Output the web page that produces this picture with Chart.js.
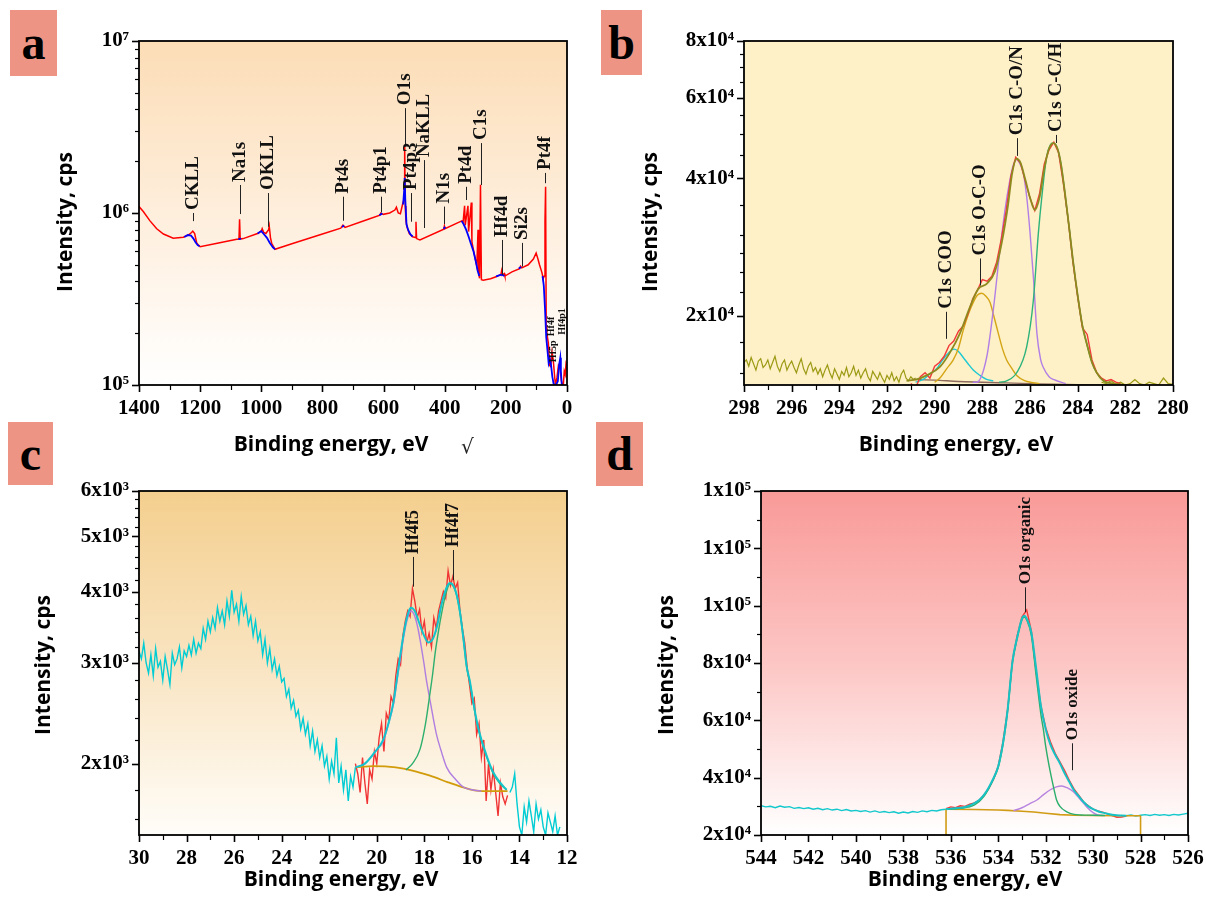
<!DOCTYPE html>
<html>
<head>
<meta charset="utf-8">
<title>XPS spectra</title>
<script src="https://cdn.jsdelivr.net/npm/chart.js@4.4.1/dist/chart.umd.min.js"></script>
<style>
  html, body { margin:0; padding:0; background:#ffffff; }
  body { position:relative; width:1206px; height:901px; overflow:hidden; }
  canvas { position:absolute; }
  .tag { position:absolute; background:#EE9484; color:#000; font-family:"Liberation Serif", serif; font-weight:bold; font-size:48px; line-height:1; display:flex; align-items:center; justify-content:center; }
  .mark { position:absolute; font-family:"DejaVu Serif", serif; font-style:italic; font-size:20px; color:#222; }
</style>
</head>
<body>
<canvas id="chartA" width="600" height="470" style="left:0;top:0"></canvas>
<canvas id="chartB" width="606" height="470" style="left:600px;top:0"></canvas>
<canvas id="chartC" width="600" height="451" style="left:0;top:450px"></canvas>
<canvas id="chartD" width="606" height="451" style="left:600px;top:450px"></canvas>
<div class="tag" style="left:10px;top:10px;width:47px;height:66px;">a</div>
<div class="tag" style="left:601px;top:10px;width:41px;height:65px;">b</div>
<div class="tag" style="left:8px;top:422px;width:45px;height:63px;">c</div>
<div class="tag" style="left:596px;top:422px;width:47px;height:64px;">d</div>
<div class="mark" style="left:461px;top:434px;">√</div>
<script>
// ================= DATA =================
// ---- Panel a: survey spectrum ----
const aEnergy = [1400,1386,1364,1342,1320,1288,1255,1239,1228,1224,1218,1211,1200,1140,1080,1073,1071,1069,1059,1010,999,997,992,985,976,974,970,966,955,900,800,740,733,726,650,612,609,601,580,563,558,552,545,537,533,531,529,527,524,516,505,496,494,492,486,481,403,401,399,344,340,335,333,324,322,313,311,306,298,295,291,289,286,283,280,274,250,230,216,214,212,205,203,180,155,152,148,127,110,101,95,90,82,78,74,72,70,68,66,61,57,53,49,45,41,38,33,28,23,18,15,12,9,6,3,0];
const aRed = [1090000,1020000,900000,810000,755000,713000,723000,745000,770000,785000,760000,667000,637000,670000,703000,705000,918000,705000,710000,762000,790000,810000,770000,760000,800000,840000,720000,667000,615000,662000,755000,817000,850000,825000,920000,970000,1000000,982000,1000000,1040000,1080000,1000000,990000,1140000,1200000,2480000,1100000,910000,840000,760000,728000,720000,890000,710000,703000,697000,805000,840000,810000,900000,880000,1100000,850000,1100000,780000,1150000,680000,610000,520000,490000,800000,450000,417000,1460000,410000,407000,415000,427000,440000,460000,435000,445000,430000,455000,475000,490000,480000,500000,540000,585000,540000,500000,450000,417000,430000,900000,1420000,220000,200000,175000,130000,128000,155000,140000,115000,100000,110000,130000,125000,105000,100000,100000,120000,115000,134000,130000];
const aBlueEnergy = [1252,1240,1230,1222,1215,1208,1202,1202, 1075,1066,1066, 1012,1000,992,982,972,962,955,955, 736,729,729, 614,604,604, 536,532,531,529,525,520,512,505,505, 404,398,398, 345,338,330,322,314,306,298,292,287,287, 232,220,212,205,205, 158,150,150, 80,76,72,68,64,60,56,52,48,44,40,36,30,26,22,20,17,14];
const aBlue = [725000,745000,740000,710000,675000,650000,640000,null, 705000,710000,null, 760000,785000,755000,720000,670000,630000,615000,null, 830000,845000,null, 970000,995000,null, 1120000,1400000,1600000,1200000,860000,800000,750000,730000,null, 810000,830000,null, 900000,860000,800000,730000,660000,600000,520000,460000,430000,null, 428000,435000,438000,430000,null, 475000,485000,null, 430000,380000,280000,190000,160000,134000,142000,130000,112000,102000,100000,100000,105000,130000,144000,120000,100000,100000];
const aPeakNames = ['CKLL','Na1s','OKLL','Pt4s','Pt4p1','O1s','Pt4p3','NaKLL','N1s','Pt4d','C1s','Hf4d','Si2s','Pt4f'];
const aPeakEnergy = [1222,1070,977,732,609,530,510,468,401,330,282,214,148,72];
const aPeakLineLow = [897000,986000,832000,902000,1010000,2480000,890000,818000,863000,1190000,1455000,436000,488000,1490000];
const aPeakLineHigh = [1000000,1455000,1306000,1244000,1244000,4070000,1306000,2030000,1090000,1420000,2550000,697000,670000,1710000];
const aMinorNames = ['Hf4f','Hf5p','Hf4p1'];
const aMinorEnergy = [53,47,17];
const aMinorLevel = [219000,157000,234000];
const aXTickValues = [1400,1300,1200,1100,1000,900,800,700,600,500,400,300,200,100,0];
const aXTickLabels = ['1400','','1200','','1000','','800','','600','','400','','200','','0'];
const aYTickValues = [100000,200000,300000,400000,500000,600000,700000,800000,900000,1000000,2000000,3000000,4000000,5000000,6000000,7000000,8000000,9000000,10000000];
const aYTickLabels = ['10⁵','','','','','','','','','10⁶','','','','','','','','','10⁷'];

// ---- Panel b: C1s ----
const bNoiseLeftStart = 298.0, bNoiseStep = -0.1;
const bNoiseLeft = [15800,16000,15500,16200,15700,15200,15900,16100,15400,15600,
  16000,15300,15800,16300,15500,15100,15700,16000,15200,15600,
  15900,15400,15000,15600,16100,15300,14900,15500,15800,15100,
  15400,14900,15300,14700,15200,15600,15000,14600,15300,14900,
  14500,15100,14800,15400,14700,15000,15500,14800,15200,14600,
  15000,15300,14700,14400,15100,14800,14500,15000,14600,14300,
  14800,14500,15000,14400,14700,14300,14900,15200,14600,14400,
  14700,14500,14600];
const bNoiseRightStart = 283.0, bNoiseRightStep = -0.2;
const bNoiseRight = [14300,14200,14400,14150,14300,14100,14200,14500,14200,14100,14300,14200,14100,14600,14200,14150];
const bRawStart = 291.0, bRawStep = -0.2;
const bRaw = [14200,13900,14700,15000,14600,15500,15800,16300,17200,17600,18500,19000,20200,21800,22800,24000,23800,24400,26200,29500,34000,40500,44500,43200,39500,36200,34000,37000,43000,46200,48000,45500,39000,32500,26200,22000,18800,18200,16000,15000,14600,14400,14500,14300,14200];
const bEnvelopeE = [291.18,290.76,290.34,289.78,289.36,288.94,288.52,288.17,287.82,287.47,287.18,286.92,286.75,286.56,286.4,286.2,286.0,285.8,285.6,285.4,285.2,285.02,284.85,284.7,284.53,284.35,284.2,283.97,283.8,283.61,283.4,283.2,282.92,282.5,282.0];
const bEnvelope = [14400,14500,14800,15450,16600,18300,20900,22900,23500,25000,29000,35000,41000,44200,43300,39800,36300,34100,36300,42000,46500,47800,46500,43000,37000,31000,26500,21600,19000,17300,15800,15000,14400,14200,14100];
const bCONE = [288.4,288.24,287.82,287.54,287.26,287.05,286.85,286.7,286.56,286.42,286.28,286.14,286.0,285.85,285.71,285.55,285.44,285.2,285.02,284.5];
const bCON = [14300,14300,16200,20600,27900,34100,39500,42800,44000,43000,41000,36500,30500,24000,18300,16000,15400,14700,14500,14200];
const bCCHE = [287.3,286.98,286.56,286.14,285.86,285.65,285.5,285.3,285.15,285.02,284.85,284.7,284.53,284.35,284.2,283.97,283.8,283.61,283.4,283.2,282.92,282.6];
const bCCH = [14300,14400,15000,17100,21600,30300,36600,44700,47300,47800,46500,43000,37000,31000,26500,21600,19000,17300,15800,15000,14400,14200];
const bOCOE = [290.0,289.78,289.5,289.22,289.0,288.8,288.58,288.38,288.2,288.03,287.86,287.68,287.5,287.33,287.15,286.98,286.75,286.56,286.2,285.99,285.6];
const bOCO = [14300,14600,15300,16000,17000,18600,20200,21400,22200,22400,22100,21400,19800,18300,16900,16000,15300,14800,14400,14300,14200];
const bCOOE = [290.8,290.48,290.2,289.92,289.7,289.5,289.3,289.18,289.0,288.8,288.6,288.38,288.1,287.82,287.54];
const bCOO = [14300,14500,14900,15300,15900,16400,16800,16900,16700,16200,15700,15200,14800,14500,14400];
const bBaseE = [290.9,290.0,289.0,288.0,287.0,286.0,285.0,284.0,283.0,282.0];
const bBase = [14500,14450,14350,14300,14250,14200,14150,14120,14100,14080];
const bPeakNames = ['C1s COO','C1s O-C-O','C1s C-O/N','C1s C-C/H'];
const bPeakEnergy = [289.52,288.1,286.56,284.9];
const bPeakLineLow = [17800,23300,44800,47800];
const bPeakLineHigh = [20400,26700,49000,49800];
const bXTickValues = [298,297,296,295,294,293,292,291,290,289,288,287,286,285,284,283,282,281,280];
const bXTickLabels = ['298','','296','','294','','292','','290','','288','','286','','284','','282','','280'];
const bYTickValues = [15000,17500,20000,22500,25000,27500,30000,35000,40000,45000,50000,55000,60000,65000,70000,75000,80000];
const bYTickLabels = ['','','2x10⁴','','','','','','4x10⁴','','','','6x10⁴','','','','8x10⁴'];

// ---- Panel c: Hf4f ----
const cRawLeftStart = 30.0, cRawStep = -0.1;
const cRawLeft = [3150,3050,3250,3000,2880,3100,2850,3180,2950,3020,
  2800,3080,2920,2750,3120,2980,3050,3200,2940,3150,
  3080,3220,3100,3300,3120,3250,3180,3450,3300,3550,
  3400,3600,3450,3750,3550,3700,3500,3850,3620,4020,
  3680,3800,3550,3920,3650,3780,3500,3620,3350,3550,
  3280,3400,3100,3300,3000,3180,2920,3050,2850,2960,
  2780,2820,2620,2700,2500,2580,2420,2480,2300,2400,
  2250,2350,2150,2280,2100,2200,2050,2150,1980,2060,
  1880,2020,1920,2220,1850,1980,1800,1950,1720,1900,
  1820,1970];
const cRawRightStart = 14.4;
const cRawRight = [1780,1820,1920,1700,1550,1500,1680,1580,1720,1620,1520,1700,1600,1660,1550,1500,1640,1580,1520,1620,1500,1550];
const cRedStart = 20.9;
const cRed = [2000,1920,1780,2050,1850,1700,1950,1880,2100,2000,
  2220,2350,2100,2450,2380,2620,2550,2850,3050,2980,
  3350,3550,3700,3620,4050,3850,3600,3720,3400,3550,
  3250,3380,3200,3600,3450,3700,3850,4000,3900,4350,
  4100,4250,4050,4150,3700,3450,3250,2950,2750,2550,
  2600,2250,2350,2050,2200,1720,2000,1800,1950,1780,
  1620,1850,1750,1700,1760];
const cEnvelopeE = [20.9,20.5,20.1,19.73,19.5,19.3,19.15,19.02,18.81,18.65,18.56,18.4,18.25,18.05,17.83,17.65,17.48,17.3,17.2,17.05,16.92,16.78,16.64,16.5,16.36,16.22,16.08,15.94,15.8,15.66,15.52,15.3,15.1,14.8,14.54];
const cEnvelope = [1970,2000,2090,2200,2360,2560,2820,3080,3480,3700,3750,3700,3560,3380,3260,3300,3460,3760,3910,4080,4140,4100,3950,3680,3320,2960,2780,2560,2380,2250,2150,2020,1930,1850,1800];
const cF5E = [20.9,20.5,20.1,19.73,19.5,19.3,19.15,19.02,18.81,18.65,18.56,18.4,18.25,18.04,17.9,17.76,17.5,17.3,17.06,16.7,16.36,16.0,15.6];
const cF5 = [1970,2000,2090,2190,2350,2540,2790,3040,3440,3650,3700,3620,3420,3040,2780,2580,2260,2110,1970,1880,1820,1800,1790];
const cF7E = [18.77,18.5,18.18,17.95,17.76,17.65,17.55,17.4,17.27,17.1,16.92,16.78,16.64,16.5,16.36,16.22,16.08,15.94,15.8,15.66,15.52,15.3,15.1,14.8,14.54];
const cF7 = [1950,2000,2120,2350,2660,2870,3110,3420,3670,3960,4130,4090,3940,3670,3310,2950,2770,2550,2370,2240,2140,2010,1920,1840,1800];
const cBaseE = [20.9,20.15,19.2,18.5,17.76,17.0,16.5,15.9,15.4,14.5];
const cBase = [1970,1980,1970,1945,1905,1855,1825,1795,1790,1790];
const cPeakNames = ['Hf4f5','Hf4f7'];
const cPeakEnergy = [18.49,16.81];
const cPeakLineLow = [4080,4190];
const cPeakLineHigh = [4600,4730];
const cXTickValues = [30,29,28,27,26,25,24,23,22,21,20,19,18,17,16,15,14,13,12];
const cXTickLabels = ['30','','28','','26','','24','','22','','20','','18','','16','','14','','12'];
const cYTickValues = [1600,1800,2000,2200,2400,2600,2800,3000,3200,3400,3600,3800,4000,4200,4400,4600,4800,5000,5200,5400,5600,5800,6000];
const cYTickLabels = ['','','2x10³','','','','','3x10³','','','','','4x10³','','','','','5x10³','','','','','6x10³'];

// ---- Panel d: O1s ----
const dRawLeftStart = 544.0, dStep = -0.2;
const dRawLeft = [30200,29800,30000,29500,30100,29700,29900,29300,29600,29200,
  29500,29000,29300,28800,29200,28700,29000,28500,28900,28400,
  28600,28200,28500,28000,28400,27900,28200,27800,28100,27600,
  28000,27700,28200,27900,28400,28100,28600,28400,28800,29000];
const dRawRightStart = 528.6;
const dRawRight = [26700,27000,26600,26900,27100,26800,27200,26900,27100,26800,27200,27000,27300,27600];
const dRedStart = 536.2;
const dRed = [29200,29800,29500,30200,30000,30800,31200,32200,34000,36200,39500,44000,52500,64000,81000,89500,96000,98500,91000,77000,65000,57500,52500,48500,45500,42500,39000,36000,33800,31500,30200,29000,28400,28000,27400,26800,26200,26300,26600];
const dEnvelopeE = [536.2,536.0,535.8,535.6,535.4,535.2,535.0,534.8,534.6,534.4,534.2,534.0,533.8,533.6,533.4,533.2,533.0,532.9,532.8,532.6,532.4,532.2,532.0,531.8,531.6,531.4,531.2,531.0,530.8,530.6,530.4,530.2,530.0,529.8,529.6,529.4,529.2,529.0,528.8,528.6];
const dEnvelope = [29000,29200,29300,29500,29800,30300,31100,32200,34000,36600,39800,44000,52000,64000,80500,89000,95500,96500,95500,90500,78000,65000,57000,51500,48000,45000,41500,38500,35500,33500,31500,30000,29000,28300,27800,27400,27100,26900,26800,26700];
const dOrgE = [536.2,535.6,535.0,534.6,534.2,534.0,533.8,533.6,533.4,533.2,533.0,532.9,532.8,532.6,532.4,532.2,532.1,532.0,531.82,531.65,531.54,531.4,531.11,530.8,530.5,530.0,529.5];
const dOrg = [29000,29300,30500,33500,39500,43500,51500,63500,80000,88500,95000,96000,95000,89500,75500,62000,57000,51000,42600,36000,32200,30000,28100,27200,27000,26900,26800];
const dOxE = [533.36,533.0,532.7,532.37,532.1,531.82,531.55,531.32,531.1,530.83,530.55,530.27,530.0,529.8,529.6];
const dOx = [28500,29500,30800,32200,34000,35700,36800,37100,36500,35100,32500,29800,27800,27000,26800];
const dBaseE = [536.2,535.0,534.0,533.6,533.0,532.5,532.0,531.4,530.8,530.0,529.0,528.0];
const dBase = [29000,28900,28700,28600,28300,28000,27600,27100,26900,26800,26700,26700];
const dPeakNames = ['O1s organic','O1s oxide'];
const dPeakEnergy = [532.87,530.90];
const dPeakLineLow = [97700,42600];
const dPeakLineHigh = [106400,52000];
const dXTickValues = [544,543,542,541,540,539,538,537,536,535,534,533,532,531,530,529,528,527,526];
const dXTickLabels = ['544','','542','','540','','538','','536','','534','','532','','530','','528','','526'];
const dYTickValues = [20000,30000,40000,50000,60000,70000,80000,90000,100000,110000,120000,130000,140000];
const dYTickLabels = ['2x10⁴','','4x10⁴','','6x10⁴','','8x10⁴','','1x10⁵','','1x10⁵','','1x10⁵'];

const X_TITLE = 'Binding energy, eV';
const Y_TITLE = 'Intensity, cps';

// ================= HELPERS =================
const grid = (start, step, n) => Array.from({length: n}, (_, i) => +(start + i * step).toFixed(2));
const pts = (xs, ys) => xs.map((x, i) => ({x: x, y: ys[i]}));
function series(data, color, width, smooth, order) {
  return { data: data, borderColor: color, backgroundColor: color, borderWidth: width, pointRadius: 0, pointHoverRadius: 0,
    fill: false, tension: 0, cubicInterpolationMode: smooth ? 'monotone' : 'default', spanGaps: false, order: order };
}
function lookup(values, labels) {
  return v => { const i = values.findIndex(t => Math.abs(t - v) <= Math.abs(t) * 1e-9 + 1e-9); return i >= 0 ? labels[i] : ''; };
}
function notes(names, energies, lows, highs, font) {
  return names.map((n, i) => ({text: n, e: energies[i], lo: lows ? lows[i] : null, hi: highs[i], font: font}));
}

const TICK_FONT = {family: '"Liberation Serif", "Times New Roman", serif', weight: 'bold', size: 21};
const TITLE_FONT_CSS = 'bold 21px "Open Sans", "Noto Sans", sans-serif';

// ================= PLUGINS =================
const bgPlugin = {
  id: 'panelBg',
  beforeDraw(chart, args, opts) {
    const {ctx, chartArea: a} = chart;
    const g = ctx.createLinearGradient(0, a.top, 0, a.bottom);
    opts.stops.forEach(s => g.addColorStop(s[0], s[1]));
    ctx.save(); ctx.fillStyle = g; ctx.fillRect(a.left, a.top, a.right - a.left, a.bottom - a.top); ctx.restore();
  }
};
const framePlugin = {
  id: 'frameTicks',
  afterDraw(chart) {
    const {ctx, chartArea: a} = chart;
    ctx.save();
    ctx.strokeStyle = '#000';
    const xs = chart.scales.x, ys = chart.scales.y;
    xs.ticks.forEach(t => {
      const major = t.label !== '' && t.label != null;
      const px = Math.round(xs.getPixelForValue(t.value)) + 0.5;
      ctx.lineWidth = major ? 1.6 : 1.2;
      ctx.beginPath(); ctx.moveTo(px, a.bottom); ctx.lineTo(px, a.bottom + (major ? 7 : 5)); ctx.stroke();
    });
    ys.ticks.forEach(t => {
      const major = t.label !== '' && t.label != null;
      const py = Math.round(ys.getPixelForValue(t.value)) + 0.5;
      ctx.lineWidth = major ? 1.6 : 1.2;
      ctx.beginPath(); ctx.moveTo(a.left - (major ? 7 : 4), py); ctx.lineTo(a.left, py); ctx.stroke();
    });
    ctx.lineWidth = 1.8;
    ctx.strokeRect(a.left, a.top, a.right - a.left, a.bottom - a.top);
    ctx.restore();
  }
};
const titlePlugin = {
  id: 'axisTitles',
  afterDraw(chart, args, opts) {
    const {ctx} = chart;
    ctx.save();
    ctx.font = TITLE_FONT_CSS; ctx.fillStyle = '#000';
    ctx.textAlign = 'center'; ctx.textBaseline = 'middle';
    ctx.fillText(opts.xText, opts.xPos[0], opts.xPos[1]);
    ctx.translate(opts.yPos[0], opts.yPos[1]);
    ctx.rotate(-Math.PI / 2);
    ctx.fillText(opts.yText, 0, 0);
    ctx.restore();
  }
};
const labelPlugin = {
  id: 'peakLabels',
  afterDatasetsDraw(chart, args, opts) {
    const {ctx} = chart;
    const xs = chart.scales.x, ys = chart.scales.y;
    ctx.save();
    ctx.fillStyle = '#111'; ctx.strokeStyle = '#222'; ctx.lineWidth = 1;
    opts.items.forEach(it => {
      const x = Math.round(xs.getPixelForValue(it.e)) + 0.5;
      const y1 = ys.getPixelForValue(it.hi);
      if (it.lo != null) {
        const y0 = ys.getPixelForValue(it.lo);
        ctx.beginPath(); ctx.moveTo(x, y0); ctx.lineTo(x, y1); ctx.stroke();
      }
      ctx.save();
      ctx.font = it.font;
      ctx.translate(x, it.lo != null ? y1 - 3 : y1);
      ctx.rotate(-Math.PI / 2);
      ctx.textAlign = it.lo != null ? 'left' : 'center';
      ctx.textBaseline = 'middle';
      ctx.fillText(it.text, 0, 0);
      ctx.restore();
    });
    ctx.restore();
  }
};

// ================= CHART FACTORY =================
function makeChart(id, geo, datasets, xs, ys, stops, items) {
  return new Chart(document.getElementById(id), {
    type: 'line',
    data: { datasets: datasets },
    options: {
      responsive: false, animation: false, devicePixelRatio: 1, events: [],
      layout: { padding: { left: geo.padL, top: geo.top, right: geo.w - geo.right, bottom: geo.h - geo.xBottom } },
      plugins: { legend: {display: false}, tooltip: {enabled: false}, panelBg: {stops: stops}, peakLabels: {items: items},
        axisTitles: {xText: X_TITLE, yText: Y_TITLE, xPos: geo.xTitle, yPos: geo.yTitle} },
      scales: {
        x: {
          type: 'linear', reverse: true, min: xs.min, max: xs.max,
          afterBuildTicks: s => { s.ticks = xs.values.map(v => ({value: v})); },
          afterFit: s => { s.height = geo.xBottom - geo.bottom; s.paddingLeft = 0; s.paddingRight = 0; },
          ticks: { autoSkip: false, maxRotation: 0, minRotation: 0, padding: 4, color: '#000', font: TICK_FONT, callback: lookup(xs.values, xs.labels) },
          grid: { display: true, drawOnChartArea: false, drawTicks: true, tickLength: 7, color: 'rgba(0,0,0,0)', tickColor: 'rgba(0,0,0,0)' },
          border: { display: false },
          title: { display: false }
        },
        y: {
          type: ys.type, min: ys.min, max: ys.max,
          afterBuildTicks: s => { s.ticks = ys.values.map(v => ({value: v})); },
          afterFit: s => { s.width = geo.left - geo.padL; s.paddingTop = 0; s.paddingBottom = 0; },
          ticks: { autoSkip: false, padding: 3, color: '#000', font: TICK_FONT, callback: lookup(ys.values, ys.labels) },
          grid: { display: true, drawOnChartArea: false, drawTicks: true, tickLength: 7, color: 'rgba(0,0,0,0)', tickColor: 'rgba(0,0,0,0)' },
          border: { display: false },
          title: { display: false }
        }
      }
    },
    plugins: [bgPlugin, framePlugin, labelPlugin, titlePlugin]
  });
}

// ================= PANEL A =================
makeChart('chartA',
  {w: 600, h: 470, padL: 40, left: 139, right: 567, top: 41, bottom: 385, xBottom: 458, xTitle: [331, 445], yTitle: [66, 222]},
  [
    series(pts(aBlueEnergy, aBlue), '#0000FF', 1.8, false, 1),
    series(pts(aEnergy, aRed), '#FF0000', 1.5, false, 2)
  ],
  {min: 0, max: 1400, values: aXTickValues, labels: aXTickLabels},
  {type: 'logarithmic', min: 1e5, max: 1e7, values: aYTickValues, labels: aYTickLabels},
  [[0, '#FCDDB6'], [0.5, '#FEEEDC'], [1, '#FFFFFF']],
  notes(aPeakNames, aPeakEnergy, aPeakLineLow, aPeakLineHigh, 'bold 19px "Liberation Serif", serif')
    .concat(notes(aMinorNames, aMinorEnergy, null, aMinorLevel, 'bold 10px "Liberation Serif", serif'))
);

// ================= PANEL B =================
makeChart('chartB',
  {w: 606, h: 470, padL: 30, left: 144, right: 573, top: 41, bottom: 385, xBottom: 458, xTitle: [356, 445], yTitle: [51, 222]},
  [
    series(pts(bEnvelopeE, bEnvelope), '#8E8A1E', 1.8, true, 1),
    series(pts(grid(bRawStart, bRawStep, bRaw.length), bRaw), '#F23A3A', 1.4, false, 2),
    series(pts(bCCHE, bCCH), '#2DB37A', 1.4, true, 3),
    series(pts(bCONE, bCON), '#B27FE6', 1.4, true, 4),
    series(pts(bOCOE, bOCO), '#D4A514', 1.4, true, 5),
    series(pts(bCOOE, bCOO), '#1FC9D2', 1.4, true, 6),
    series(pts(bBaseE, bBase), '#8C6A5E', 1.4, true, 7),
    series(pts(grid(bNoiseRightStart, bNoiseRightStep, bNoiseRight.length), bNoiseRight), '#9C9A14', 1.2, false, 8),
    series(pts(grid(bNoiseLeftStart, bNoiseStep, bNoiseLeft.length), bNoiseLeft), '#9C9A14', 1.2, false, 9)
  ],
  {min: 280, max: 298, values: bXTickValues, labels: bXTickLabels},
  {type: 'logarithmic', min: 14100, max: 80000, values: bYTickValues, labels: bYTickLabels},
  [[0, '#FEF0C7'], [1, '#FEF0C7']],
  notes(bPeakNames, bPeakEnergy, bPeakLineLow, bPeakLineHigh, 'bold 19px "Liberation Serif", serif')
);

// ================= PANEL C =================
makeChart('chartC',
  {w: 600, h: 451, padL: 20, left: 139, right: 567, top: 41, bottom: 385, xBottom: 443, xTitle: [341, 430], yTitle: [44, 215]},
  [
    series(pts(cEnvelopeE, cEnvelope), '#13C4CC', 2, true, 1),
    series(pts(cF7E, cF7), '#2EAF6E', 1.4, true, 2),
    series(pts(cF5E, cF5), '#B07EE0', 1.4, true, 3),
    series(pts(cBaseE, cBase), '#D19B0A', 1.8, true, 4),
    series(pts(grid(cRedStart, cRawStep, cRed.length), cRed), '#F03434', 1.4, false, 5),
    series(pts(grid(cRawRightStart, cRawStep, cRawRight.length), cRawRight), '#00CCD4', 1.4, false, 6),
    series(pts(grid(cRawLeftStart, cRawStep, cRawLeft.length), cRawLeft), '#00CCD4', 1.4, false, 7)
  ],
  {min: 12, max: 30, values: cXTickValues, labels: cXTickLabels},
  {type: 'logarithmic', min: 1500, max: 6000, values: cYTickValues, labels: cYTickLabels},
  [[0, '#F4CF8E'], [0.5, '#F9E4C1'], [1, '#FFFDF9']],
  notes(cPeakNames, cPeakEnergy, cPeakLineLow, cPeakLineHigh, 'bold 18px "Liberation Serif", serif')
);

// ================= PANEL D =================
makeChart('chartD',
  {w: 606, h: 451, padL: 40, left: 161, right: 588, top: 41, bottom: 385, xBottom: 443, xTitle: [365, 430], yTitle: [67, 215]},
  [
    series(pts(dEnvelopeE, dEnvelope), '#18C2C4', 2, true, 1),
    series(pts(dOrgE, dOrg), '#2AAE6A', 1.4, true, 2),
    series(pts(dOxE, dOx), '#B784E0', 1.4, true, 3),
    series(pts(dBaseE, dBase), '#D19B14', 1.6, false, 4),
    series([{x: dBaseE[0], y: dYTickValues[0]}, {x: dBaseE[0], y: dBase[0]}], '#D19B14', 1.6, false, 4),
    series([{x: dBaseE[dBaseE.length - 1], y: dYTickValues[0]}, {x: dBaseE[dBaseE.length - 1], y: dBase[dBase.length - 1]}], '#D19B14', 1.6, false, 4),
    series(pts(grid(dRedStart, dStep, dRed.length), dRed), '#F03A3A', 1.4, false, 5),
    series(pts(grid(dRawRightStart, dStep, dRawRight.length), dRawRight), '#12C8CC', 1.4, false, 6),
    series(pts(grid(dRawLeftStart, dStep, dRawLeft.length), dRawLeft), '#12C8CC', 1.4, false, 7)
  ],
  {min: 526, max: 544, values: dXTickValues, labels: dXTickLabels},
  {type: 'linear', min: 20000, max: 140000, values: dYTickValues, labels: dYTickLabels},
  [[0, '#F99A98'], [0.5, '#FCC6C4'], [1, '#FFFFFF']],
  notes(dPeakNames, dPeakEnergy, dPeakLineLow, dPeakLineHigh, 'bold 17px "Liberation Serif", serif')
);
</script>
</body>
</html>
